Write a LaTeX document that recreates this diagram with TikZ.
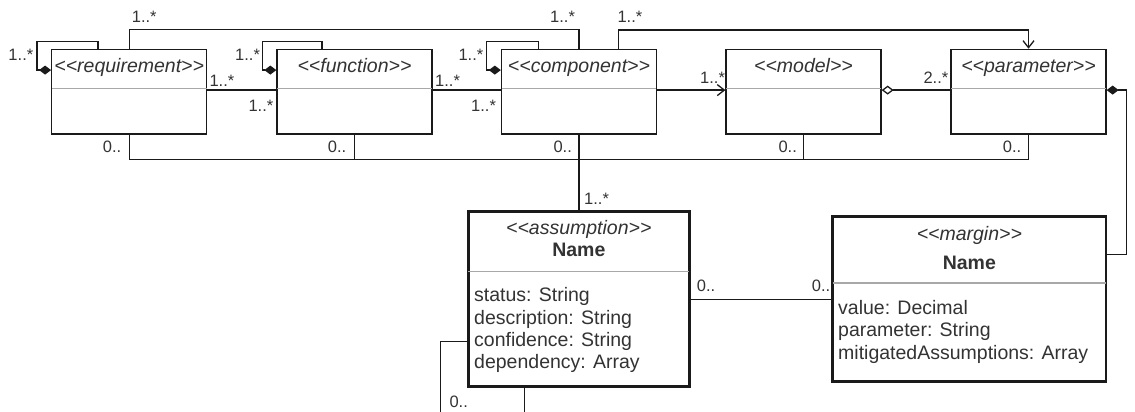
\documentclass[tikz,border=0pt]{standalone}
\usepackage{fontspec}
\setmainfont{Liberation Sans}[Ligatures=TeXOff]
\usetikzlibrary{arrows.meta,calc}
\definecolor{ink}{HTML}{1A1A1A}
\definecolor{txt}{HTML}{333333}
\definecolor{rule}{HTML}{A8A8A8}

\begin{document}
\begin{tikzpicture}[x=1pt,y=-1pt,
  cls/.style={draw=ink, line width=1.3pt, fill=white, minimum width=155pt,
              minimum height=84.7pt, inner sep=0pt},
  bigcls/.style={draw=ink, line width=2.6pt, fill=white, inner sep=0pt},
  wire/.style={draw=ink, line width=1.3pt},
  divider/.style={draw=rule, line width=1.1pt},
  stereo/.style={font=\fontsize{19.5}{22}\selectfont\itshape, text=txt,
                 anchor=base, inner sep=0pt},
  cname/.style={font=\fontsize{19.5}{22}\selectfont\bfseries, text=txt,
                anchor=base, inner sep=0pt},
  attr/.style={font=\fontsize{19.5}{22}\selectfont, text=txt,
               anchor=base west, inner sep=0pt},
  mult/.style={font=\fontsize{16.5}{18}\selectfont, text=txt,
               anchor=base west, inner sep=0pt},
  owned/.style={-{Diamond[length=12pt,width=9pt]}},
  ownedstart/.style={{Diamond[length=12pt,width=9pt]}-},
  sharedstart/.style={{Diamond[open,length=12pt,width=9pt]}-},
  navig/.style={-{Straight Barb[length=7pt,width=11pt]}}
]
\useasboundingbox (0,0) rectangle (1135,412);

% ---------- top row of classes ----------
\node[cls] (req)   at (129.2,91.7) {};
\node[cls] (func)  at (354.5,91.7) {};
\node[cls] (comp)  at (579,91.7)   {};
\node[cls] (model) at (803.5,91.7) {};
\node[cls] (param) at (1028.5,91.7) {};

\foreach \c in {req,func,comp,model,param}
  \draw[divider] ($(\c.north west)+(0.7,39.4)$) -- ($(\c.north east)+(-0.7,39.4)$);

\node[stereo] (reqS)   at (129.2,73)  {<<requirement>>};
\node[stereo] (funcS)  at (354.5,73)  {<<function>>};
\node[stereo] (compS)  at (579,73)    {<<component>>};
\node[stereo] (modelS) at (803.5,73)  {<<model>>};
\node[stereo] (paramS) at (1028.5,73) {<<parameter>>};

% ---------- lower classes ----------
\node[bigcls, minimum width=221pt, minimum height=175pt] (assum) at (578.8,299.2) {};
\node[bigcls, minimum width=273.3pt, minimum height=165pt] (margin) at (969.35,299.2) {};
\draw[divider] ($(assum.north west)+(1.3,61)$) -- ($(assum.north east)+(-1.3,61)$);
\draw[divider] ($(margin.north west)+(1.3,67.6)$) -- ($(margin.north east)+(-1.3,67.6)$);

\node[stereo] (assumS) at (578.8,234)   {<<assumption>>};
\node[cname]  (assumN) at (578.8,256.7) {Name};
\node[attr] (a1) at (474,301.7) {status: String};
\node[attr] (a2) at (474,324)   {description: String};
\node[attr] (a3) at (474,346.4) {confidence: String};
\node[attr] (a4) at (474,368.6) {dependency: Array};

\node[stereo] (marginS) at (969.35,240)   {<<margin>>};
\node[cname]  (marginN) at (969.35,269.3) {Name};
\node[attr] (m1) at (838,314)   {value: Decimal};
\node[attr] (m2) at (838,336.7) {parameter: String};
\node[attr] (m3) at (838,359.3) {mitigatedAssumptions: Array};

% ---------- self compositions ----------
\draw[wire,owned] ($(req.north west)+(47,0)$) -- ++(0,-6.9)
  -| ($(req.north west)+(-14,21.4)$) -- ($(req.north west)+(0,21.4)$);
\draw[wire,owned] ($(func.north west)+(45.7,0)$) -- ++(0,-6.9)
  -| ($(func.north west)+(-14,21.4)$) -- ($(func.north west)+(0,21.4)$);
\draw[wire,owned] ($(comp.north west)+(37.8,0)$) -- ++(0,-6.9)
  -| ($(comp.north west)+(-14.2,21.4)$) -- ($(comp.north west)+(0,21.4)$);

% ---------- associations along the top row ----------
\draw[wire] (req.north) -- ++(0,-19.3) -| (comp.north);
\draw[wire,navig] ($(comp.north)+(39.5,0)$) -- ++(0,-18.7) -| (param.north);

\draw[wire] ($(req.north east)+(0,41.4)$) -- ($(func.north west)+(0,41.4)$);
\draw[wire] ($(func.north east)+(0,41.4)$) -- ($(comp.north west)+(0,41.4)$);
\draw[wire,navig] ($(comp.north east)+(0,41.4)$) -- ($(model.north west)+(0,41.4)$);
\draw[wire,sharedstart] ($(model.north east)+(0,41.4)$) -- ($(param.north west)+(0,41.4)$);

% ---------- common bus under the top row ----------
\draw[wire] (req.south) -- ++(0,25) -| (param.south);
\draw[wire] (func.south) -- ++(0,25);
\draw[wire] (model.south) -- ++(0,25);
\draw[wire] (comp.south) -- (comp.south |- assum.north);

% ---------- parameter to margin ----------
\draw[wire,ownedstart] ($(param.north east)+(0,41.4)$) -- ++(20,0)
  |- ($(margin.north east)+(0,39)$);

% ---------- assumption links ----------
\draw[wire] (assum.east) -- (margin.west);
\coordinate (loopA) at (440.7,412);
\coordinate (loopB) at (524.3,412);
\draw[wire] ($(assum.north west)+(0,131)$) -| (loopA);
\draw[wire] (assum.south -| loopB) -- (loopB);

% ---------- multiplicities ----------
\node[mult] (l1)  at (8.3,60.7)    {1..*};
\node[mult] (l2)  at (131.7,22.7)  {1..*};
\node[mult] (l3)  at (209.3,86.7)  {1..*};
\node[mult] (l4)  at (248.3,111)   {1..*};
\node[mult] (l5)  at (235,60.7)    {1..*};
\node[mult] (l6)  at (435,86.7)    {1..*};
\node[mult] (l7)  at (471,111)     {1..*};
\node[mult] (l8)  at (458.3,60.7)  {1..*};
\node[mult] (l9)  at (550,22.7)    {1..*};
\node[mult] (l10) at (617.3,22.7)  {1..*};
\node[mult] (l11) at (700,83.3)    {1..*};
\node[mult] (l12) at (923.3,83.3)  {2..*};
\node[mult] (b1)  at (102.7,152.3) {0..};
\node[mult] (b2)  at (327.7,152.3) {0..};
\node[mult] (b3)  at (553.3,152.3) {0..};
\node[mult] (b4)  at (778.3,152.3) {0..};
\node[mult] (b5)  at (1002.7,152.3) {0..};
\node[mult] (l13) at (584,204)     {1..*};
\node[mult] (l14) at (696.7,291.7) {0..};
\node[mult] (l15) at (811.7,291.7) {0..};
\node[mult] (l16) at (449.3,407.7) {0..};
\end{tikzpicture}
\end{document}
